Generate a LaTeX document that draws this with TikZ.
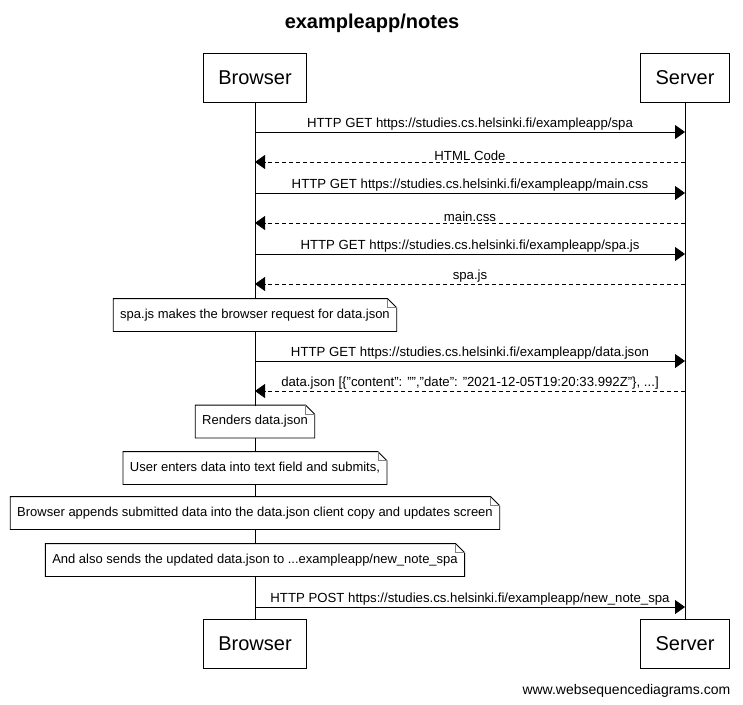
\documentclass[tikz,border=0pt]{standalone}
\usepackage{fontspec}
\setmainfont{Liberation Sans}
\usetikzlibrary{arrows.meta}
\newcommand{\notefold}[1]{%
	\draw (#1.south west) -- (#1.north west) -- ([xshift=-9pt]#1.north east) -- ([yshift=-9pt]#1.north east) -- (#1.south east) -- cycle;
	\draw[gray] ([xshift=-9pt]#1.north east) |- ([yshift=-9pt]#1.north east);}

\begin{document}
\begin{tikzpicture}[x=1pt, y=-1pt, line width=0.8pt,
		actor/.style={draw, fill=white, font=\fontsize{20}{24}\selectfont, minimum height=49pt, inner xsep=15pt},
		msg/.style={-{Triangle[length=10pt,width=14pt]}},
		reply/.style={msg, dash pattern=on 4pt off 3pt},
		lbl/.style={above, inner sep=1.2pt, font=\fontsize{13.2}{15}\selectfont},
		note/.style={fill=white, font=\fontsize{13}{15}\selectfont, minimum height=32pt, inner xsep=6.5pt}]
	\useasboundingbox (0,0) rectangle (743,704);
	\node[font=\bfseries\fontsize{20}{24}\selectfont] (title) at (372,23) {exampleapp/notes};
	\node[actor] (br) at (255,77.5) {Browser};
	\node[actor] (sv) at (685,77.5) {Server};
	\node[actor] (br2) at (255,644) {Browser};
	\node[actor] (sv2) at (685,644) {Server};
	\draw (br) -- (br2);
	\draw (sv) -- (sv2);
	\foreach \n/\y in {1/132,2/162,3/193,4/223,5/254,6/284,7/361,8/391,9/607} {
		\coordinate (b\n) at (255,\y);
		\coordinate (s\n) at (685,\y);
	}
	\draw[msg] (b1) -- node[lbl] {HTTP GET https://studies.cs.helsinki.fi/exampleapp/spa} (s1);
	\draw[reply] (s2) -- node[lbl] {HTML Code} (b2);
	\draw[msg] (b3) -- node[lbl] {HTTP GET https://studies.cs.helsinki.fi/exampleapp/main.css} (s3);
	\draw[reply] (s4) -- node[lbl] {main.css} (b4);
	\draw[msg] (b5) -- node[lbl] {HTTP GET https://studies.cs.helsinki.fi/exampleapp/spa.js} (s5);
	\draw[reply] (s6) -- node[lbl] {spa.js} (b6);
	\node[note] (n1) at (255,315) {spa.js makes the browser request for data.json};
	\notefold{n1}
	\draw[msg] (b7) -- node[lbl] {HTTP GET https://studies.cs.helsinki.fi/exampleapp/data.json} (s7);
	\draw[reply] (s8) -- node[lbl] {data.json [\{"content": "","date": "2021-12-05T19:20:33.992Z"\}, ...]} (b8);
	\node[note] (n2) at (255,421.5) {Renders data.json};
	\notefold{n2}
	\node[note] (n3) at (255,468) {User enters data into text field and submits,};
	\notefold{n3}
	\node[note] (n4) at (255,513) {Browser appends submitted data into the data.json client copy and updates screen};
	\notefold{n4}
	\node[note] (n5) at (255,560) {And also sends the updated data.json to ...exampleapp/new\_note\_spa};
	\notefold{n5}
	\draw[msg] (b9) -- node[lbl] {HTTP POST https://studies.cs.helsinki.fi/exampleapp/new\_note\_spa} (s9);
	\node[anchor=base east, font=\fontsize{14}{17}\selectfont] (site) at (734,694) {www.websequencediagrams.com};
\end{tikzpicture}
\end{document}
